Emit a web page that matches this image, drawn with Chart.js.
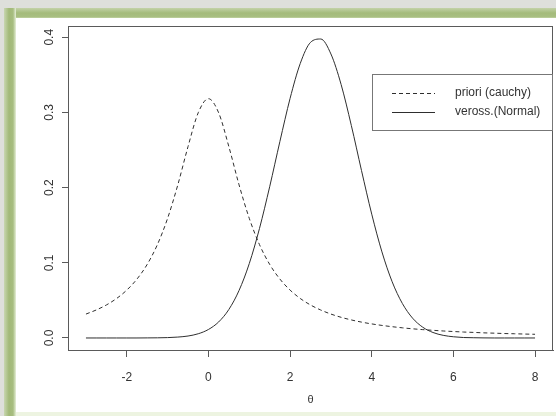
<!DOCTYPE html>
<html>
<head>
<meta charset="utf-8">
<script src="https://cdn.jsdelivr.net/npm/chart.js@4/dist/chart.umd.min.js"></script>
<style>
html, body { margin: 0; padding: 0; background: #fff; }
#wrap { position: relative; width: 556px; height: 416px; overflow: hidden; background: #dedfdb; }
#green { position: absolute; left: 4px; top: 8px; right: 0; bottom: 0;
	background: linear-gradient(to bottom, #c3d2a8 0px, #a4bb7b 5px, #a9bf82 9px, #e4eed4 11px, #e4eed4 100%); }
#greenLeft { position: absolute; left: 4px; top: 8px; width: 12px; bottom: 0;
	background: linear-gradient(to right, #c8d6b0 0px, #a2b978 5px, #a7bd80 9px, #e6efd8 12px); }
#paper { position: absolute; left: 16px; top: 18px; right: 0; bottom: 4px; background: #fff; }
#base { position: absolute; left: 16px; right: 0; bottom: 0; height: 4px; background: #edf4e1; }
canvas { position: absolute; left: 0; top: 0; }
</style>
</head>
<body>
<div id="wrap">
	<div id="green"></div>
	<div id="greenLeft"></div>
	<div id="paper"></div>
	<div id="base"></div>
	<canvas id="chart" width="556" height="416"></canvas>
</div>
<script>
// theta grid used for both densities
const thetaValues = [
	-3, -2.75, -2.5, -2.25, -2, -1.75, -1.5, -1.25, -1, -0.75, -0.5, -0.25,
	0, 0.25, 0.5, 0.75, 1, 1.25, 1.5, 1.75, 2, 2.25, 2.5, 2.75,
	3, 3.25, 3.5, 3.75, 4, 4.25, 4.5, 4.75, 5, 5.25, 5.5, 5.75,
	6, 6.25, 6.5, 6.75, 7, 7.25, 7.5, 7.75, 8
];

// priori (cauchy), dashed
const prioriCauchy = [
	0.0318, 0.0372, 0.0439, 0.0525, 0.0637, 0.0784, 0.0979, 0.1242, 0.1592, 0.2037, 0.2546, 0.2996,
	0.3183, 0.2996, 0.2546, 0.2037, 0.1592, 0.1242, 0.0979, 0.0784, 0.0637, 0.0525, 0.0439, 0.0372,
	0.0318, 0.0275, 0.0240, 0.0211, 0.0187, 0.0167, 0.0150, 0.0135, 0.0122, 0.0111, 0.0102, 0.0093,
	0.0086, 0.0079, 0.0074, 0.0068, 0.0064, 0.0059, 0.0056, 0.0052, 0.0049
];

// veross.(Normal), solid
const verossNormal = [
	0.0000, 0.0000, 0.0000, 0.0000, 0.0000, 0.0000, 0.0001, 0.0002, 0.0005, 0.0012, 0.0026, 0.0056,
	0.0113, 0.0213, 0.0379, 0.0632, 0.0989, 0.1456, 0.2012, 0.2613, 0.3187, 0.3653, 0.3932, 0.3977,
	0.3778, 0.3372, 0.2827, 0.2226, 0.1647, 0.1145, 0.0748, 0.0459, 0.0264, 0.0143, 0.0073, 0.0035,
	0.0016, 0.0006, 0.0003, 0.0001, 0.0000, 0.0000, 0.0000, 0.0000, 0.0000
];

const seriesLabels = ["priori (cauchy)", "veross.(Normal)"];
const xTicks = [-2, 0, 2, 4, 6, 8];
const yTicks = [0, 0.1, 0.2, 0.3, 0.4];
const xTitle = "θ";

const ink = "#333";
const axisInk = "#5a5a5a";
const fontFamily = "'Liberation Sans', Arial, sans-serif";

const toPoints = (ys) => thetaValues.map((x, i) => ({ x: x, y: ys[i] }));

// R style box around the plot region
const boxPlugin = {
	id: "box",
	afterDraw(chart) {
		const { ctx, chartArea } = chart;
		ctx.save();
		ctx.strokeStyle = axisInk;
		ctx.lineWidth = 1;
		ctx.strokeRect(chartArea.left + 0.5, chartArea.top + 0.5,
			chartArea.right - chartArea.left - 1, chartArea.bottom - chartArea.top);
		ctx.restore();
	},
};

// legend box in the top right, like legend("topright", ...)
const boxLegend = {
	id: "boxLegend",
	afterDraw(chart) {
		const { ctx, chartArea } = chart;
		const right = chartArea.right;
		const left = right - 181;
		const top = 74;
		const bottom = 130;
		ctx.save();
		ctx.fillStyle = "#fff";
		ctx.fillRect(left, top, right - left, bottom - top);
		ctx.strokeStyle = "#777";
		ctx.lineWidth = 1;
		ctx.strokeRect(left + 0.5, top + 0.5, right - left - 1, bottom - top);
		chart.data.datasets.forEach((ds, i) => {
			const y = 93 + i * 19;
			ctx.strokeStyle = ds.borderColor;
			ctx.lineWidth = ds.borderWidth;
			ctx.setLineDash(ds.borderDash || []);
			ctx.beginPath();
			ctx.moveTo(left + 20, y + 0.5);
			ctx.lineTo(left + 63, y + 0.5);
			ctx.stroke();
			ctx.setLineDash([]);
			ctx.fillStyle = ink;
			ctx.font = "12px " + fontFamily;
			ctx.textBaseline = "middle";
			ctx.textAlign = "left";
			ctx.fillText(ds.label, left + 83, y);
		});
		ctx.restore();
	},
};

new Chart(document.getElementById("chart"), {
	type: "line",
	data: {
		datasets: [
			{
				label: seriesLabels[0],
				data: toPoints(prioriCauchy),
				borderColor: "#2e2e2e",
				borderWidth: 1,
				borderDash: [4, 3],
				pointRadius: 0,
				cubicInterpolationMode: "monotone",
				fill: false,
			},
			{
				label: seriesLabels[1],
				data: toPoints(verossNormal),
				borderColor: "#2e2e2e",
				borderWidth: 1,
				pointRadius: 0,
				cubicInterpolationMode: "monotone",
				fill: false,
			},
		],
	},
	options: {
		responsive: false,
		animation: false,
		layout: { padding: { left: 0, top: 26, right: 3, bottom: 0 } },
		plugins: {
			legend: { display: false },
			tooltip: { enabled: false },
		},
		scales: {
			x: {
				type: "linear",
				min: -3.44,
				max: 8.44,
				afterBuildTicks: (scale) => {
					scale.ticks = xTicks.map((v) => ({ value: v }));
				},
				afterFit: (scale) => {
					scale.height = 66;
				},
				grid: { drawOnChartArea: false, drawTicks: true, tickLength: 7, color: axisInk },
				border: { display: true, color: axisInk },
				ticks: {
					padding: 13,
					color: ink,
					font: { family: fontFamily, size: 12 },
					maxRotation: 0,
					callback: (v) => String(v),
				},
				title: {
					display: true,
					text: xTitle,
					color: ink,
					font: { family: fontFamily, size: 11 },
					padding: { top: 0, bottom: 9 },
				},
			},
			y: {
				type: "linear",
				min: -0.016,
				max: 0.415,
				afterBuildTicks: (scale) => {
					scale.ticks = yTicks.map((v) => ({ value: v }));
				},
				afterFit: (scale) => {
					scale.width = 68;
				},
				grid: { drawOnChartArea: false, drawTicks: true, tickLength: 6, color: axisInk },
				border: { display: true, color: axisInk },
				ticks: {
					padding: 4,
					color: ink,
					crossAlign: "center",
					minRotation: 90,
					maxRotation: 90,
					font: { family: fontFamily, size: 12 },
					callback: (v) => v.toFixed(1),
				},
			},
		},
	},
	plugins: [boxPlugin, boxLegend],
});
</script>
</body>
</html>
